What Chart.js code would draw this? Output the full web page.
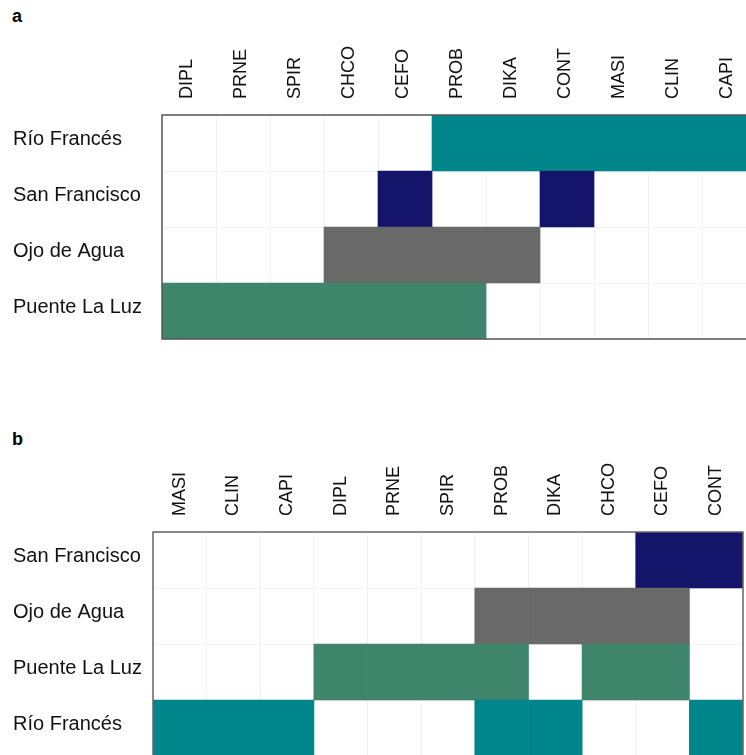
<!DOCTYPE html>
<html><head><meta charset="utf-8">
<script src="https://cdn.jsdelivr.net/npm/chart.js@4.4.1/dist/chart.umd.min.js"></script>
<style>
html,body{margin:0;padding:0;background:#fff;overflow:hidden;width:746px;height:755px;}
#wrap{position:relative;width:746px;height:755px;overflow:hidden;}
canvas{position:absolute;left:0;}
.lab{position:absolute;font:bold 18px "Liberation Sans",Arial,sans-serif;color:#000;}
</style></head><body>
<div id="wrap">
<div class="lab" style="left:12px;top:6px">a</div>
<canvas id="ca" width="760" height="345" style="top:0;width:760px;height:345px"></canvas>
<div class="lab" style="left:12px;top:429px">b</div>
<canvas id="cb" width="760" height="345" style="top:417px;width:760px;height:345px"></canvas>
</div>
<script>
// Column (species) orders for each panel
const speciesA = ["DIPL","PRNE","SPIR","CHCO","CEFO","PROB","DIKA","CONT","MASI","CLIN","CAPI"];
const speciesB = ["MASI","CLIN","CAPI","DIPL","PRNE","SPIR","PROB","DIKA","CHCO","CEFO","CONT"];
// Row (site) orders for each panel
const rowsA = ["Río Francés","San Francisco","Ojo de Agua","Puente La Luz"];
const rowsB = ["San Francisco","Ojo de Agua","Puente La Luz","Río Francés"];
// Species present at each site
const presRioFrances   = ["PROB","DIKA","CONT","MASI","CLIN","CAPI"];
const presSanFrancisco = ["CEFO","CONT"];
const presOjoDeAgua    = ["CHCO","CEFO","PROB","DIKA"];
const presPuenteLaLuz  = ["DIPL","PRNE","SPIR","CHCO","CEFO","PROB"];

const presence = {
  "Río Francés": presRioFrances,
  "San Francisco": presSanFrancisco,
  "Ojo de Agua": presOjoDeAgua,
  "Puente La Luz": presPuenteLaLuz
};
const siteColor = {
  "Río Francés": "rgb(0,134,138)",
  "San Francisco": "rgb(20,20,106)",
  "Ojo de Agua": "rgb(105,105,105)",
  "Puente La Luz": "rgb(62,133,108)"
};
const FONT = '"Liberation Sans", Arial, sans-serif';
const GRID = '#f2f2f2';

function makeChart(id, species, rows, plotLeft, plotRight, borderColor, xLabelShift) {
  const datasets = species.map(sp => ({
    label: sp,
    data: rows.map(() => 1),
    backgroundColor: rows.map(r => presence[r].includes(sp) ? siteColor[r] : 'rgba(0,0,0,0)'),
    borderWidth: 0,
    barPercentage: 1,
    categoryPercentage: 1
  }));
  const borderPlugin = {
    id: 'plotBorder',
    afterDraw(chart) {
      const {ctx, chartArea: a} = chart;
      ctx.save();
      ctx.strokeStyle = borderColor;
      ctx.lineWidth = 1.5;
      ctx.strokeRect(a.left, a.top, a.right - a.left, a.bottom - a.top);
      ctx.restore();
    }
  };
  const noPad = s => { s.paddingTop = 0; s.paddingBottom = 0; s.paddingLeft = 0; s.paddingRight = 0; };
  return new Chart(document.getElementById(id), {
    type: 'bar',
    data: { labels: rows, datasets },
    plugins: [borderPlugin],
    options: {
      indexAxis: 'y',
      responsive: false,
      animation: false,
      devicePixelRatio: 1,
      layout: { padding: { left: 13, top: 0, right: 760 - plotRight, bottom: 6 } },
      plugins: { legend: { display: false }, tooltip: { enabled: false } },
      scales: {
        x: {
          type: 'linear', position: 'top', stacked: true, min: 0, max: species.length,
          grid: { display: false, drawTicks: false },
          border: { display: false },
          afterBuildTicks(scale) { scale.ticks = species.map((_, i) => ({ value: i + 0.5 })); },
          afterFit(scale) { scale.height = 115; noPad(scale); },
          ticks: {
            autoSkip: false, minRotation: 90, maxRotation: 90, padding: 16,
            labelOffset: xLabelShift,
            color: '#111', font: { family: FONT, size: 18 },
            callback: (v, i) => species[i]
          }
        },
        x2: {
          type: 'linear', position: 'bottom', min: 0, max: species.length,
          grid: { color: GRID, lineWidth: 1, drawTicks: false },
          border: { display: false },
          ticks: { display: false, stepSize: 1 },
          afterFit(scale) { scale.height = 0; noPad(scale); }
        },
        y: {
          type: 'category', stacked: true,
          grid: { color: GRID, lineWidth: 1, drawTicks: false, offset: true },
          border: { display: false },
          afterFit(scale) { scale.width = plotLeft - 13; noPad(scale); },
          ticks: {
            crossAlign: 'far', labelOffset: -4,
            color: '#111', font: { family: FONT, size: 20 }
          }
        }
      }
    }
  });
}

makeChart('ca', speciesA, rowsA, 162, 756, '#555', 20);
makeChart('cb', speciesB, rowsB, 153, 743, '#666', 21.5);
</script>
</body></html>
